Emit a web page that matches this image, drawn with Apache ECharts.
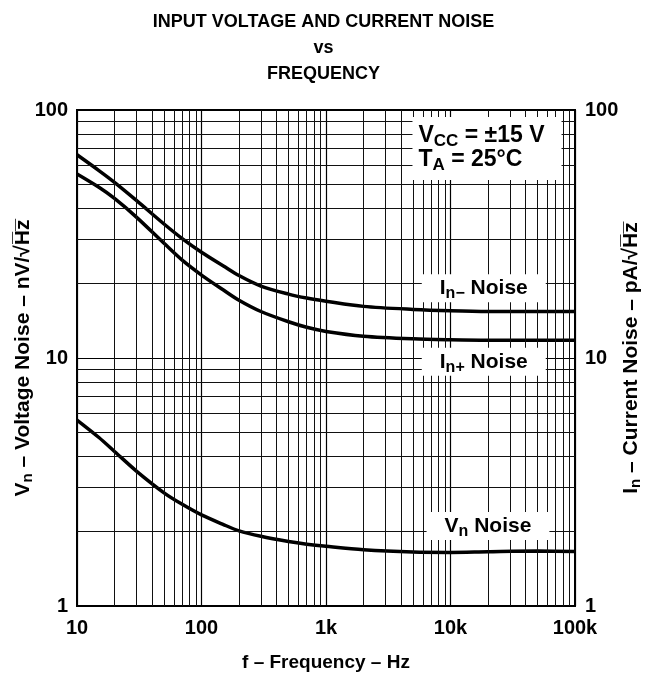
<!DOCTYPE html>
<html>
<head>
<meta charset="utf-8">
<script src="https://cdn.jsdelivr.net/npm/echarts@6/dist/echarts.min.js"></script>
<style>
html,body{margin:0;padding:0;background:#fff;}
#chart{width:647px;height:675px;}
</style>
</head>
<body>
<div id="chart"></div>
<script>
// ---- data ----
const freqHz       = [10, 15, 20, 30, 50, 70, 100, 150, 200, 300, 500, 700, 1000, 2000, 5000, 10000, 20000, 50000, 100000];
const inMinusNoise = [66, 57, 51.1, 43.2, 34.7, 30.3, 26.7, 23.5, 21.5, 19.5, 18.1, 17.45, 16.95, 16.15, 15.7, 15.5, 15.4, 15.4, 15.4];
const inPlusNoise  = [55.2, 48.8, 44.0, 37.0, 29.0, 24.8, 21.6, 18.8, 17.1, 15.4, 14.0, 13.3, 12.8, 12.25, 11.95, 11.85, 11.8, 11.8, 11.8];
const vnNoise      = [5.62, 4.78, 4.2, 3.5, 2.86, 2.57, 2.33, 2.13, 2.01, 1.91, 1.82, 1.775, 1.74, 1.685, 1.65, 1.645, 1.655, 1.665, 1.66];

const xTickValues = [10, 100, 1000, 10000, 100000];
const xTickLabels = ['10', '100', '1k', '10k', '100k'];
const yTickValues = [1, 10, 100];
const yTickLabels = ['1', '10', '100'];

const xMinorGrid = [20,30,40,50,60,70,80,90, 200,300,400,500,600,700,800,900,
                    2000,3000,4000,5000,6000,7000,8000,9000, 20000,30000,40000,50000,60000,70000,80000,90000];
const yMinorGrid = [2,3,4,5,6,7,8,9, 20,30,40,50,60,70,80,90];

// annotation anchors [frequency, value]
const condAnchor         = [4950, 70];     // left edge of conditions box
const inMinusLabelAnchor = [18500, 19.1];
const inPlusLabelAnchor  = [18500, 9.65];
const vnLabelAnchor      = [20000, 2.1];

// ---- chart ----
const FONT = "'Liberation Sans', Arial, Helvetica, sans-serif";
const chart = echarts.init(document.getElementById('chart'), null, {renderer: 'canvas'});

function rich(size, sub, lh, off) {
  return {
    m: {fontFamily: FONT, fontWeight: 'bold', fontSize: size, color: '#000', lineHeight: lh},
    s: {fontFamily: FONT, fontWeight: 'bold', fontSize: sub, color: '#000', lineHeight: lh, padding: [off, 0, 0, 0]}
  };
}

function boxLabel(text, pad, size, align) {
  return {
    show: true,
    formatter: text,
    position: 'inside',
    align: align || 'center',
    verticalAlign: 'middle',
    backgroundColor: '#fff',
    padding: pad,
    rich: rich(size, Math.round(size * 0.75), 24, 11)
  };
}

const gridLineStyle = {color: '#111', width: 1, type: 'solid'};
const tickFont = {fontFamily: FONT, fontWeight: 'bold', fontSize: 20, color: '#000'};

function fmt(values, labels) {
  return v => { const i = values.findIndex(t => Math.abs(t - v) / t < 1e-6); return i >= 0 ? labels[i] : ''; };
}

chart.setOption({
  animation: false,
  backgroundColor: '#fff',
  title: {
    text: 'INPUT VOLTAGE AND CURRENT NOISE\nvs\nFREQUENCY',
    left: 'center',
    top: 4,
    textStyle: {fontFamily: FONT, fontWeight: 'bold', fontSize: 18, color: '#000', lineHeight: 26}
  },
  grid: {
    left: 77, right: 72, top: 110, bottom: 69,
    outerBoundsMode: 'none',
    containLabel: false,
    show: true, borderColor: '#000', borderWidth: 2, backgroundColor: 'transparent'
  },
  xAxis: {
    type: 'log', logBase: 10, min: 10, max: 100000,
    name: 'f – Frequency – Hz',
    nameLocation: 'middle', nameGap: 47, nameMoveOverlap: false,
    nameTextStyle: {fontFamily: FONT, fontWeight: 'bold', fontSize: 19, color: '#000', verticalAlign: 'top'},
    axisLine: {show: false},
    axisTick: {show: false},
    axisLabel: Object.assign({margin: 12, formatter: fmt(xTickValues, xTickLabels)}, tickFont),
    splitLine: {show: true, lineStyle: {color: '#000', width: 1.2}}
  },
  yAxis: [{
    type: 'log', logBase: 10, min: 1, max: 100, position: 'left',
    name: '{m|V}{s|n}{m| – Voltage Noise – nV/√H̅z̅}',
    nameLocation: 'middle', nameGap: 42, nameRotate: 90, nameMoveOverlap: false,
    nameTextStyle: {rich: rich(21, 15, 24, 10)},
    axisLine: {show: false},
    axisTick: {show: false},
    axisLabel: Object.assign({margin: 9, formatter: fmt(yTickValues, yTickLabels)}, tickFont),
    splitLine: {show: true, lineStyle: {color: '#000', width: 1.2}}
  }, {
    type: 'log', logBase: 10, min: 1, max: 100, position: 'right',
    name: '{m|I}{s|n}{m| – Current Noise – pA/√H̅z̅}',
    nameLocation: 'middle', nameGap: 44, nameRotate: 90, nameMoveOverlap: false,
    nameTextStyle: {rich: rich(21, 15, 24, 10)},
    axisLine: {show: false},
    axisTick: {show: false},
    axisLabel: Object.assign({margin: 10, formatter: fmt(yTickValues, yTickLabels)}, tickFont),
    splitLine: {show: false}
  }],
  series: [
    {
      name: 'minor grid', type: 'line', data: [], z: 1, silent: true,
      markLine: {
        silent: true, symbol: ['none', 'none'], animation: false,
        label: {show: false},
        lineStyle: gridLineStyle,
        emphasis: {disabled: true},
        data: xMinorGrid.map(v => ({xAxis: v})).concat(yMinorGrid.map(v => ({yAxis: v})))
      }
    },
    {
      name: 'In- Noise', type: 'line', z: 3, symbol: 'none', smooth: 0.3,
      lineStyle: {color: '#000', width: 3.5},
      data: freqHz.map((f, i) => [f, inMinusNoise[i]]),
      markPoint: {
        symbol: 'rect', symbolSize: 0, silent: true,
        data: [
          {coord: condAnchor, label: boxLabel('{m|V}{s|CC}{m| = ±15 V}\n{m|T}{s|A}{m| = 25°C}', [7, 17, 8, 6], 23, 'left')},
          {coord: inMinusLabelAnchor, label: boxLabel('{m|I}{s|n−}{m| Noise}', [2, 18, 2, 18], 21)}
        ]
      }
    },
    {
      name: 'In+ Noise', type: 'line', z: 3, symbol: 'none', smooth: 0.3,
      lineStyle: {color: '#000', width: 3.5},
      data: freqHz.map((f, i) => [f, inPlusNoise[i]]),
      markPoint: {
        symbol: 'rect', symbolSize: 0, silent: true,
        data: [{coord: inPlusLabelAnchor, label: boxLabel('{m|I}{s|n+}{m| Noise}', [2, 18, 2, 18], 21)}]
      }
    },
    {
      name: 'Vn Noise', type: 'line', z: 3, symbol: 'none', smooth: 0.3,
      lineStyle: {color: '#000', width: 3.5},
      data: freqHz.map((f, i) => [f, vnNoise[i]]),
      markPoint: {
        symbol: 'rect', symbolSize: 0, silent: true,
        data: [{coord: vnLabelAnchor, label: boxLabel('{m|V}{s|n}{m| Noise}', [2, 18, 2, 18], 21)}]
      }
    }
  ]
});
</script>
</body>
</html>
